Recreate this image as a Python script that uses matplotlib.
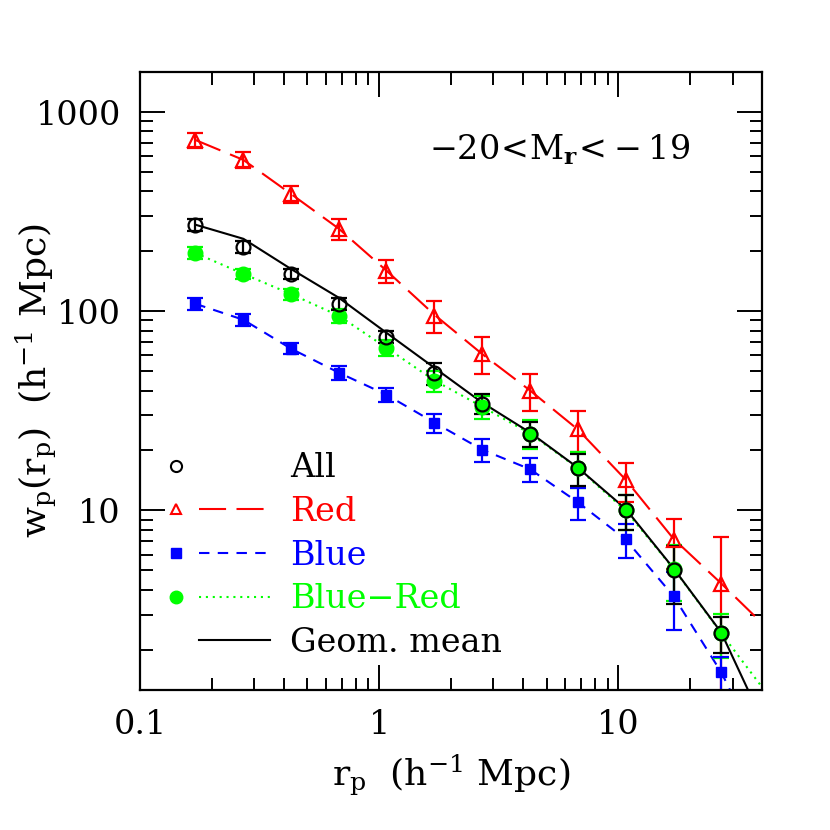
import numpy as np
import matplotlib
matplotlib.use("Agg")
import matplotlib.pyplot as plt
from matplotlib.legend_handler import HandlerTuple
from matplotlib.lines import Line2D

plt.rcParams['font.family'] = ['DejaVu Serif']
plt.rcParams['mathtext.fontset'] = 'dejavuserif'

# projected separation bins (h^-1 Mpc)
rp = [0.17, 0.27, 0.427, 0.676, 1.07, 1.70, 2.69, 4.27, 6.76, 10.7, 17.0, 26.9]

# measurements
all_wp = [272, 210, 154, 109, 74.5, 48.7, 34.4, 24.3, 16.3, 10.0, 5.0, 2.42]
all_err = [19, 15, 9, 8, 5, 6, 4, 3.5, 3, 2, 1.6, 0.5]
red_wp = [724, 575, 388, 260, 160, 95, 61.2, 40, 25.5, 14.2, 7.1, 4.25]
red_err = [62, 53, 39, 32, 21, 17, 13, 8.5, 5.9, 3.2, 2.0, 3.1]
blue_wp = [109, 90.6, 64.9, 49.2, 38.1, 27.6, 20.2, 16.1, 11.0, 7.17, 3.71, 1.54]
blue_err = [8, 6, 4, 4, 3, 3, 2.7, 2.2, 2.0, 1.4, 1.2, 0.3]
br_wp = [196, 154, 122, 95, 65.6, 44.9, 33.2, 24.3, 16.3, 10.0, 5.1, 2.42]
br_err = [13, 9, 8, 8, 6, 5.5, 4.5, 4, 3.3, 2, 1.6, 0.6]

# model curves
rp_line = [0.17, 0.27, 0.427, 0.676, 1.07, 1.70, 2.69, 4.27, 6.76, 10.7, 17.0, 26.9, 39.8]
red_line = [724, 575, 388, 260, 160, 96, 61, 40, 25.5, 14.3, 7.2, 4.3, 2.72]
blue_line = [109, 90.6, 64.9, 49.2, 38.1, 27.6, 20.2, 16.1, 11.0, 7.17, 3.71, 1.54, 0.6]
br_line = [196, 154, 122, 95, 65.6, 44.9, 33.2, 24.3, 16.3, 10.0, 5.1, 2.42, 1.3]
geom_line = [272, 231, 163, 117, 78, 52, 34.8, 24.6, 16.4, 10.2, 5.12, 2.44, 0.89]

RED = (1, 0, 0)
BLUE = (0, 0, 1)
GREEN = (0, 1, 0)

fig = plt.figure(figsize=(8.3, 8.3), dpi=100)
ax = fig.add_axes([0.169, 0.169, 0.749, 0.744])

lw = 1.5
l_red, = ax.plot(rp_line, red_line, color=RED, lw=lw, dashes=(13, 5))
l_blue, = ax.plot(rp_line, blue_line, color=BLUE, lw=lw, dashes=(5, 4))
l_br, = ax.plot(rp_line, br_line, color=GREEN, lw=lw, dashes=(1, 2.3))
l_geom, = ax.plot(rp_line, geom_line, color='k', lw=lw)

eb = dict(capsize=6, elinewidth=1.6, capthick=1.6, linestyle='none')
ax.errorbar(rp, red_wp, yerr=red_err, color=RED, marker='^', ms=10,
            mfc='none', mec=RED, mew=1.6, **eb)
ax.errorbar(rp, br_wp, yerr=br_err, color=GREEN, marker='o', ms=10.5, **eb)
ax.errorbar(rp, blue_wp, yerr=blue_err, color=BLUE, marker='s', ms=7, **eb)
ax.errorbar(rp, all_wp, yerr=all_err, color='k', marker='o', ms=10,
            mfc='none', mec='k', mew=1.6, **eb)

ax.set_xscale('log')
ax.set_yscale('log')
ax.set_xlim(0.1, 10 ** 1.6)
ax.set_ylim(10 ** 0.1, 10 ** 3.2)

ax.set_xticks([0.1, 1, 10])
ax.set_xticklabels(['0.1', '1', '10'])
ax.set_yticks([10, 100, 1000])
ax.set_yticklabels(['10', '100', '1000'])
ax.tick_params(which='both', direction='in', top=True, right=True, labelsize=24, width=1.4)
ax.tick_params(which='major', length=18, pad=14)
ax.tick_params(which='minor', length=9)
for s in ax.spines.values():
    s.set_linewidth(1.6)

ax.set_xlabel(r'$\mathrm{r_p\ \ (h^{-1}\ Mpc)}$', fontsize=26, labelpad=8)
ax.set_ylabel(r'$\mathrm{w_p(r_p)\ \ (h^{-1}\ Mpc)}$', fontsize=26)
ax.yaxis.set_label_coords(-0.13, 0.5)

ax.text(0.885, 0.875, r'$-20\!<\!\mathrm{M}_\mathbf{r}\!<\!-19$', transform=ax.transAxes,
        ha='right', va='center', fontsize=24)

# legend: marker on the left, line style on the right
m_all = Line2D([], [], ls='none', marker='o', ms=8, mfc='none', mec='k', mew=1.5)
m_red = Line2D([], [], ls='none', marker='^', ms=7, mfc='none', mec=RED, mew=1.5)
m_blue = Line2D([], [], ls='none', marker='s', ms=7, color=BLUE)
m_br = Line2D([], [], ls='none', marker='o', ms=9, color=GREEN)
blank = Line2D([], [], ls='none')
handles = [(m_all, blank), (m_red, l_red), (m_blue, l_blue), (m_br, l_br), (blank, l_geom)]
labels = ['All', 'Red', 'Blue', 'Blue\u2212Red', 'Geom. mean']
leg = ax.legend(handles, labels, handler_map={tuple: HandlerTuple(ndivide=2, pad=-0.35)},
                loc='lower left', bbox_to_anchor=(0.0, 0.05), frameon=False,
                fontsize=24, handlelength=3.9, handletextpad=0.6,
                labelspacing=0.35, borderpad=0, borderaxespad=0)
for t, c in zip(leg.get_texts(), ['k', RED, BLUE, GREEN, 'k']):
    t.set_color(c)

fig.savefig('out.png', dpi=100)
